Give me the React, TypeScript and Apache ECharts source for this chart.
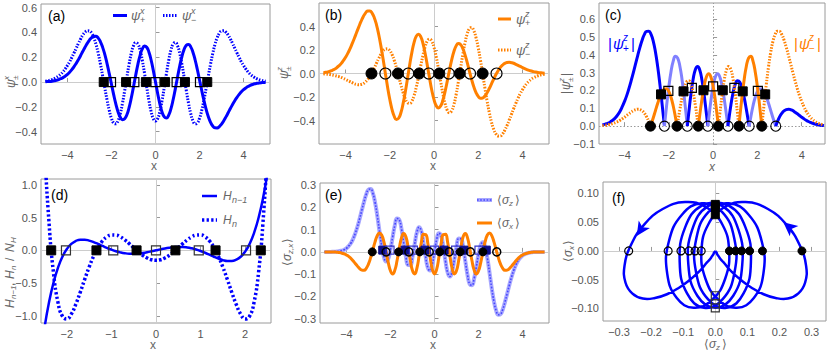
import React, { useEffect, useRef } from 'react';
import * as echarts from 'echarts';

// ---------- data ----------
const xGrid = [
  -5, -4.9, -4.8, -4.7, -4.6, -4.5, -4.4, -4.3, -4.2, -4.1,
  -4, -3.9, -3.8, -3.7, -3.6, -3.5, -3.4, -3.3, -3.2, -3.1,
  -3, -2.9, -2.8, -2.7, -2.6, -2.5, -2.4, -2.3, -2.2, -2.1,
  -2, -1.9, -1.8, -1.7, -1.6, -1.5, -1.4, -1.3, -1.2, -1.1,
  -1, -0.9, -0.8, -0.7, -0.6, -0.5, -0.4, -0.3, -0.2, -0.1,
  0,
  0.1, 0.2, 0.3, 0.4, 0.5, 0.6, 0.7, 0.8, 0.9, 1,
  1.1, 1.2, 1.3, 1.4, 1.5, 1.6, 1.7, 1.8, 1.9, 2,
  2.1, 2.2, 2.3, 2.4, 2.5, 2.6, 2.7, 2.8, 2.9, 3,
  3.1, 3.2, 3.3, 3.4, 3.5, 3.6, 3.7, 3.8, 3.9, 4,
  4.1, 4.2, 4.3, 4.4, 4.5, 4.6, 4.7, 4.8, 4.9, 5,
];

// (a) psi^x_+ and psi^x_-
const psiPlusX = [
  0.002, 0.004, 0.005, 0.007, 0.010, 0.014, 0.020, 0.027, 0.036, 0.048,
  0.062, 0.079, 0.100, 0.124, 0.151, 0.181, 0.214, 0.248, 0.281, 0.312,
  0.339, 0.359, 0.370, 0.369, 0.355, 0.325, 0.280, 0.221, 0.149, 0.068,
  -0.017, -0.101, -0.178, -0.241, -0.284, -0.304, -0.297, -0.264, -0.206, -0.129,
  -0.039, 0.055, 0.143, 0.216, 0.267, 0.290, 0.281, 0.243, 0.178, 0.094,
  0,
  -0.094, -0.178, -0.243, -0.281, -0.290, -0.267, -0.216, -0.143, -0.055, 0.039,
  0.129, 0.206, 0.264, 0.297, 0.304, 0.284, 0.241, 0.178, 0.101, 0.017,
  -0.068, -0.149, -0.221, -0.280, -0.325, -0.355, -0.369, -0.370, -0.359, -0.339,
  -0.312, -0.281, -0.248, -0.214, -0.181, -0.151, -0.124, -0.100, -0.079, -0.062,
  -0.048, -0.036, -0.027, -0.020, -0.014, -0.010, -0.007, -0.005, -0.004, -0.002,
];
const psiMinusX = [
  0.007, 0.010, 0.014, 0.020, 0.027, 0.037, 0.049, 0.064, 0.083, 0.106,
  0.133, 0.163, 0.198, 0.235, 0.273, 0.312, 0.348, 0.379, 0.402, 0.414,
  0.412, 0.394, 0.357, 0.303, 0.231, 0.145, 0.049, -0.050, -0.145, -0.229,
  -0.293, -0.330, -0.337, -0.312, -0.255, -0.171, -0.070, 0.039, 0.144, 0.232,
  0.293, 0.319, 0.307, 0.257, 0.175, 0.072, -0.041, -0.148, -0.237, -0.295,
  -0.315,
  -0.295, -0.237, -0.148, -0.041, 0.072, 0.175, 0.257, 0.307, 0.319, 0.293,
  0.232, 0.144, 0.039, -0.070, -0.171, -0.255, -0.312, -0.337, -0.330, -0.293,
  -0.229, -0.145, -0.050, 0.049, 0.145, 0.231, 0.303, 0.357, 0.394, 0.412,
  0.414, 0.402, 0.379, 0.348, 0.312, 0.273, 0.235, 0.198, 0.163, 0.133,
  0.106, 0.083, 0.064, 0.049, 0.037, 0.027, 0.020, 0.014, 0.010, 0.007,
];

// (b) psi^z_+ and psi^z_-
const psiPlusZ = [
  0.007, 0.010, 0.014, 0.019, 0.027, 0.036, 0.049, 0.065, 0.084, 0.109,
  0.138, 0.171, 0.210, 0.254, 0.300, 0.349, 0.397, 0.443, 0.483, 0.514,
  0.531, 0.532, 0.514, 0.475, 0.414, 0.332, 0.233, 0.121, 0.003, -0.114,
  -0.219, -0.305, -0.364, -0.391, -0.381, -0.336, -0.259, -0.159, -0.044, 0.073,
  0.180, 0.264, 0.318, 0.334, 0.313, 0.256, 0.170, 0.067, -0.041, -0.142,
  -0.223,
  -0.275, -0.293, -0.277, -0.228, -0.154, -0.065, 0.029, 0.116, 0.187, 0.235,
  0.255, 0.247, 0.214, 0.161, 0.094, 0.021, -0.050, -0.113, -0.162, -0.195,
  -0.210, -0.208, -0.192, -0.164, -0.128, -0.088, -0.047, -0.009, 0.024, 0.052,
  0.072, 0.086, 0.093, 0.095, 0.092, 0.087, 0.078, 0.069, 0.060, 0.050,
  0.041, 0.033, 0.026, 0.021, 0.016, 0.012, 0.009, 0.006, 0.005, 0.003,
];
const psiMinusZ = [
  -0.003, -0.005, -0.006, -0.009, -0.012, -0.016, -0.021, -0.026, -0.033, -0.041,
  -0.050, -0.060, -0.069, -0.078, -0.087, -0.092, -0.095, -0.093, -0.086, -0.072,
  -0.052, -0.024, 0.009, 0.047, 0.088, 0.128, 0.164, 0.192, 0.208, 0.210,
  0.195, 0.162, 0.113, 0.050, -0.021, -0.094, -0.161, -0.214, -0.247, -0.255,
  -0.235, -0.187, -0.116, -0.029, 0.065, 0.154, 0.228, 0.277, 0.293, 0.275,
  0.223,
  0.142, 0.041, -0.067, -0.170, -0.256, -0.313, -0.334, -0.318, -0.264, -0.180,
  -0.073, 0.044, 0.159, 0.259, 0.336, 0.381, 0.391, 0.364, 0.305, 0.219,
  0.114, -0.003, -0.121, -0.233, -0.332, -0.414, -0.475, -0.514, -0.532, -0.531,
  -0.514, -0.483, -0.443, -0.397, -0.349, -0.300, -0.254, -0.210, -0.171, -0.138,
  -0.109, -0.084, -0.065, -0.049, -0.036, -0.027, -0.019, -0.014, -0.010, -0.007,
];

// (e) <sigma_z> and <sigma_x>
const sigmaZ = [
  0.000, 0.000, 0.000, 0.000, 0.001, 0.001, 0.002, 0.004, 0.006, 0.010,
  0.016, 0.026, 0.039, 0.058, 0.083, 0.113, 0.149, 0.188, 0.226, 0.259,
  0.280, 0.283, 0.264, 0.223, 0.164, 0.094, 0.028, -0.022, -0.043, -0.031,
  0.010, 0.067, 0.120, 0.150, 0.145, 0.104, 0.042, -0.021, -0.059, -0.060,
  -0.023, 0.035, 0.088, 0.111, 0.094, 0.042, -0.023, -0.072, -0.084, -0.056,
  0,
  0.056, 0.084, 0.072, 0.023, -0.042, -0.094, -0.111, -0.088, -0.035, 0.023,
  0.060, 0.059, 0.021, -0.042, -0.104, -0.145, -0.150, -0.120, -0.067, -0.010,
  0.031, 0.043, 0.022, -0.028, -0.094, -0.164, -0.223, -0.264, -0.283, -0.280,
  -0.259, -0.226, -0.188, -0.149, -0.113, -0.083, -0.058, -0.039, -0.026, -0.016,
  -0.010, -0.006, -0.004, -0.002, -0.001, -0.001, 0.000, 0.000, 0.000, 0.000,
];
const sigmaX = [
  0.000, 0.000, 0.000, 0.000, -0.001, -0.001, -0.002, -0.003, -0.006, -0.009,
  -0.014, -0.020, -0.029, -0.040, -0.052, -0.064, -0.075, -0.082, -0.083, -0.074,
  -0.055, -0.026, 0.009, 0.045, 0.073, 0.085, 0.076, 0.046, 0.001, -0.048,
  -0.085, -0.099, -0.082, -0.039, 0.016, 0.063, 0.083, 0.068, 0.022, -0.037,
  -0.084, -0.099, -0.074, -0.019, 0.041, 0.079, 0.078, 0.037, -0.024, -0.078,
  -0.099,
  -0.078, -0.024, 0.037, 0.078, 0.079, 0.041, -0.019, -0.074, -0.099, -0.084,
  -0.037, 0.022, 0.068, 0.083, 0.063, 0.016, -0.039, -0.082, -0.099, -0.085,
  -0.048, 0.001, 0.046, 0.076, 0.085, 0.073, 0.045, 0.009, -0.026, -0.055,
  -0.074, -0.083, -0.082, -0.075, -0.064, -0.052, -0.040, -0.029, -0.020, -0.014,
  -0.009, -0.006, -0.003, -0.002, -0.001, -0.001, 0.000, 0.000, 0.000, 0.000,
];

// (d) H_{n-1}/N_H and H_n/N_H
const dGrid = [
  -2.6, -2.5, -2.4, -2.3, -2.2, -2.1, -2, -1.9, -1.8, -1.7,
  -1.6, -1.5, -1.4, -1.3, -1.2, -1.1, -1, -0.9, -0.8, -0.7,
  -0.6, -0.5, -0.4, -0.3, -0.2, -0.1,
  0,
  0.1, 0.2, 0.3, 0.4, 0.5, 0.6, 0.7, 0.8, 0.9, 1,
  1.1, 1.2, 1.3, 1.4, 1.5, 1.6, 1.7, 1.8, 1.9, 2,
  2.1, 2.2, 2.3, 2.4, 2.5, 2.6,
];
const hPrev = [
  -1.656, -1.177, -0.794, -0.495, -0.267, -0.098, 0.020, 0.098, 0.143, 0.163,
  0.163, 0.149, 0.126, 0.098, 0.067, 0.037, 0.010, -0.013, -0.031, -0.044,
  -0.051, -0.052, -0.048, -0.040, -0.029, -0.015,
  0,
  0.015, 0.029, 0.040, 0.048, 0.052, 0.051, 0.044, 0.031, 0.013, -0.010,
  -0.037, -0.067, -0.098, -0.126, -0.149, -0.163, -0.163, -0.143, -0.098, -0.020,
  0.098, 0.267, 0.495, 0.794, 1.177, 1.656,
];
const hN = [
  3.286, 1.597, 0.423, -0.343, -0.793, -1.006, -1.048, -0.974, -0.826, -0.641,
  -0.444, -0.256, -0.090, 0.044, 0.143, 0.206, 0.234, 0.232, 0.205, 0.159,
  0.102, 0.039, -0.021, -0.075, -0.117, -0.144,
  -0.153,
  -0.144, -0.117, -0.075, -0.021, 0.039, 0.102, 0.159, 0.205, 0.232, 0.234,
  0.206, 0.143, 0.044, -0.090, -0.256, -0.444, -0.641, -0.826, -0.974, -1.048,
  -1.006, -0.793, -0.343, 0.423, 1.597, 3.286,
];

// marker positions
const hnZeros = [-2.351, -1.336, -0.436, 0.436, 1.336, 2.351];
const hPrevZeros = [-2.02, -0.959, 0, 0.959, 2.02];
const psiMzZeros = [-2.827, -1.63, -0.669, 0.238, 1.163, 2.198];
const psiPzZeros = [-2.198, -1.163, -0.238, 0.669, 1.63, 2.827];
const cSqFilledY = [0.178, 0.195, 0.201, 0.201, 0.195, 0.178];
const cSqOpenY = [0.198, 0.215, 0.223, 0.215, 0.198];
const fCircFilledZ = [0.27, 0.147, 0.107, 0.082, 0.063, 0.044];
const fCircOpenZ = [-0.044, -0.063, -0.082, -0.107, -0.147, -0.27];
const fSqFilledX = [0.063, 0.076, 0.081];
const fSqOpenX = [-0.078, -0.092, -0.099];
const fArrows = [[0.212, 0.05, 50], [-0.245, 0.026, 147]];

// tick labels
const xTicksWide = [-4, -2, 0, 2, 4];
const yTicksA = [-0.4, -0.2, 0, 0.2, 0.4, 0.6];
const yTicksB = [-0.4, -0.2, 0, 0.2, 0.4];
const yTicksC = [-0.1, 0, 0.1, 0.2, 0.3, 0.4, 0.5, 0.6];
const xTicksD = [-2, -1, 0, 1, 2];
const yTicksD = [-1, -0.5, 0, 0.5, 1];
const yTicksE = [-0.3, -0.2, -0.1, 0, 0.1, 0.2, 0.3];
const xTicksF = [-0.3, -0.2, -0.1, 0, 0.1, 0.2, 0.3];
const yTicksF = [-0.1, -0.05, 0, 0.05, 0.1];

// ---------- styling helpers ----------
const SANS = '"Liberation Sans", "DejaVu Sans", Arial, sans-serif';
const BLUE = '#0000ff';
const LBLUE = '#8080ff';
const ORANGE = '#ff8000';
const GRAY = '#666666';

const fmt = (v: number, d: number) => (v < -1e-9 ? '\u2212' : '') + Math.abs(v).toFixed(d);

function vAxis(gi: number, min: number, max: number, ticks: number[], dec: number) {
  return {
    type: 'value', gridIndex: gi, min, max,
    axisLine: { show: false }, splitLine: { show: false },
    axisTick: { show: true, inside: true, length: 4, lineStyle: { color: '#999' }, customValues: ticks },
    axisLabel: { customValues: ticks, formatter: (v: number) => fmt(v, dec), color: '#555', fontSize: 11, fontFamily: SANS, margin: 5 },
  };
}

const pairs = (xs: number[], ys: number[]) => xs.map((x, i) => [x, ys[i]]);

const zeroMark = (dotted: boolean) => ({
  silent: true, symbol: ['none', 'none'], z: 1, animation: false,
  label: { show: false }, emphasis: { disabled: true },
  lineStyle: { color: dotted ? '#9a9a9a' : '#cccccc', width: 1, type: dotted ? [1.5, 2] : 'solid' },
  data: [{ yAxis: 0 }, { xAxis: 0 }],
});

function line(gi: number, data: any[], color: string, width: number, type: any = 'solid', z = 3, extra: any = {}) {
  return {
    type: 'line', xAxisIndex: gi, yAxisIndex: gi, data, showSymbol: false, symbol: 'none',
    smooth: true, silent: true, z, lineStyle: { color, width, type, cap: 'butt', join: 'round' }, ...extra,
  };
}
function scatter(gi: number, data: any[], symbol: string, size: any, fill: string, border: string, bw = 1.2, z = 6, extra: any = {}) {
  return {
    type: 'scatter', xAxisIndex: gi, yAxisIndex: gi, data, symbol, symbolSize: size, silent: true, z,
    itemStyle: { color: fill, borderColor: border, borderWidth: bw, opacity: 1 }, ...extra,
  };
}

// split |y| into sign segments, using the read zero positions as segment ends
function signSegments(xs: number[], ys: number[], zeros: number[]) {
  const b = [-Infinity, ...zeros, Infinity];
  const segs: { pts: number[][]; pos: boolean }[] = [];
  for (let i = 0; i < b.length - 1; i++) {
    const pts: number[][] = [];
    let s = 0;
    if (isFinite(b[i])) pts.push([b[i], 0]);
    xs.forEach((x, j) => {
      if (x > b[i] && x < b[i + 1]) { pts.push([x, Math.abs(ys[j])]); s += ys[j]; }
    });
    if (isFinite(b[i + 1])) pts.push([b[i + 1], 0]);
    segs.push({ pts, pos: s > 0 });
  }
  return segs;
}

type Piece = [string, number, number, number, boolean?];
function mathText(cx: number, cy: number, pieces: Piece[], fill: string, rotate = false, family = SANS) {
  return {
    type: 'group', x: cx, y: cy, rotation: rotate ? Math.PI / 2 : 0, silent: true,
    children: pieces.map(([t, dx, dy, size, it]) => ({
      type: 'text', x: dx, y: dy, silent: true,
      style: {
        text: t, fill, fontSize: size, fontFamily: family, fontStyle: it ? 'italic' : 'normal',
        textAlign: 'left', align: 'left', textVerticalAlign: 'middle', verticalAlign: 'middle',
      },
    })),
  };
}
function seg(x1: number, x2: number, y: number, stroke: string, lw: number, dash: any = null) {
  return { type: 'line', silent: true, shape: { x1, y1: y, x2, y2: y }, style: { stroke, lineWidth: lw, lineDash: dash, lineCap: 'butt' } };
}
function panelLabel(x: number, y: number, t: string) {
  return { type: 'text', x, y, silent: true, style: { text: t, fill: '#000', fontSize: 14, fontFamily: SANS, textAlign: 'left', align: 'left', textVerticalAlign: 'middle', verticalAlign: 'middle' } };
}

export default function App() {
  const ref = useRef<HTMLDivElement>(null);
  useEffect(() => {
    if (!ref.current) return;
    const chart = echarts.init(ref.current, null, { renderer: 'svg' });

    const grids = [
      { left: 41, top: 4, width: 229, height: 140 },
      { left: 319, top: 3, width: 230, height: 141 },
      { left: 599, top: 3, width: 226, height: 141 },
      { left: 41, top: 179, width: 230, height: 144 },
      { left: 320, top: 183, width: 229, height: 140 },
      { left: 603, top: 182, width: 223, height: 139 },
    ].map((g) => ({ ...g, show: true, borderColor: '#9a9a9a', borderWidth: 1, backgroundColor: 'transparent' }));

    const xAxis = [
      vAxis(0, -5.2, 5.2, xTicksWide, 0),
      vAxis(1, -5.2, 5.2, xTicksWide, 0),
      vAxis(2, -5.15, 5.05, xTicksWide, 0),
      vAxis(3, -2.58, 2.58, xTicksD, 0),
      vAxis(4, -5.2, 5.2, xTicksWide, 0),
      vAxis(5, -0.35, 0.345, xTicksF, 1),
    ];
    const yAxis = [
      vAxis(0, -0.5, 0.63, yTicksA, 1),
      vAxis(1, -0.6, 0.6, yTicksB, 1),
      vAxis(2, -0.1, 0.69, yTicksC, 1),
      vAxis(3, -1.11, 1.09, yTicksD, 1),
      vAxis(4, -0.32, 0.31, yTicksE, 1),
      vAxis(5, -0.122, 0.12, yTicksF, 2),
    ];
    yAxis.forEach((a: any) => { a.axisLabel.margin = 4; });

    const series: any[] = [];
    const DOT = [1.5, 1.5];

    // (a)
    series.push(line(0, pairs(xGrid, psiMinusX), BLUE, 3, DOT, 3, { markLine: zeroMark(false) }));
    series.push(line(0, pairs(xGrid, psiPlusX), BLUE, 3, 'solid', 4));
    series.push(scatter(0, hnZeros.map((x) => [x, 0]), 'rect', 9, '#000', '#000', 1));
    series.push(scatter(0, hPrevZeros.map((x) => [x, 0]), 'rect', 9, 'rgba(0,0,0,0)', '#000', 1.2));

    // (b)
    series.push(line(1, pairs(xGrid, psiMinusZ), ORANGE, 3, DOT, 3, { markLine: zeroMark(false) }));
    series.push(line(1, pairs(xGrid, psiPlusZ), ORANGE, 3, 'solid', 4));
    series.push(scatter(1, psiMzZeros.map((x) => [x, 0]), 'circle', 11, '#000', '#000', 1));
    series.push(scatter(1, psiPzZeros.map((x) => [x, 0]), 'circle', 11, 'rgba(0,0,0,0)', '#000', 1.1));

    // (c)
    let first = true;
    signSegments(xGrid, psiPlusZ, psiPzZeros).forEach((s) => {
      series.push(line(2, s.pts, s.pos ? BLUE : LBLUE, 3, 'solid', 3, first ? { markLine: zeroMark(true) } : {}));
      first = false;
    });
    signSegments(xGrid, psiMinusZ, psiMzZeros).forEach((s) => {
      series.push(line(2, s.pts, ORANGE, 3, s.pos ? 'solid' : DOT, 4));
    });
    series.push(scatter(2, psiMzZeros.map((x) => [x, 0]), 'circle', 10, '#000', '#000', 1));
    series.push(scatter(2, psiPzZeros.map((x) => [x, 0]), 'circle', 10, 'rgba(0,0,0,0)', '#000', 1.1));
    series.push(scatter(2, pairs(hnZeros, cSqFilledY), 'rect', 9, '#000', '#000', 1));
    series.push(scatter(2, pairs(hPrevZeros, cSqOpenY), 'rect', 9, 'rgba(0,0,0,0)', '#000', 1.2));

    // (d)
    series.push(line(3, pairs(dGrid, hN), BLUE, 3.5, [2.3, 2.3], 3, { markLine: zeroMark(false) }));
    series.push(line(3, pairs(dGrid, hPrev), BLUE, 2.5, 'solid', 4));
    series.push(scatter(3, hnZeros.map((x) => [x, 0]), 'rect', 9, '#000', '#000', 1));
    series.push(scatter(3, hPrevZeros.map((x) => [x, 0]), 'rect', 9, 'rgba(0,0,0,0)', '#333', 1.2));

    // (e)
    series.push(line(4, pairs(xGrid, sigmaZ), '#a8a8ff', 4, 'solid', 3, { markLine: zeroMark(false) }));
    series.push(line(4, pairs(xGrid, sigmaZ), '#4646ff', 1.6, [1.6, 1.6], 3));
    series.push(line(4, pairs(xGrid, sigmaX), ORANGE, 3, 'solid', 4));
    series.push(scatter(4, hnZeros.map((x) => [x, 0.008]), 'rect', 8, '#0c0c8a', '#0c0c8a', 1));
    series.push(scatter(4, hPrevZeros.map((x) => [x, 0.008]), 'rect', 8, 'rgba(0,0,0,0)', '#3535c8', 1.2));
    series.push(scatter(4, psiMzZeros.map((x) => [x, 0]), 'circle', 8, '#000', '#000', 1, 7));
    series.push(scatter(4, psiPzZeros.map((x) => [x, 0]), 'circle', 8, 'rgba(0,0,0,0)', '#000', 1.5, 7));

    // (f) parametric curve (<sigma_z>, <sigma_x>) drawn through the axes' scales
    const fPts = pairs(sigmaZ, sigmaX);
    series.push({
      type: 'custom', coordinateSystem: 'cartesian2d', xAxisIndex: 5, yAxisIndex: 5,
      data: fPts, silent: true, z: 3, clip: true,
      renderItem: (params: any, api: any) => {
        if (params.dataIndex !== 0) return null;
        const points = fPts.map((p) => api.coord(p));
        return {
          type: 'polyline',
          shape: { points, smooth: 0.45 },
          style: { stroke: BLUE, lineWidth: 2.5, fill: null, lineJoin: 'round' },
        };
      },
    });
    series.push(scatter(5, fCircFilledZ.map((z) => [z, 0]), 'circle', 8, '#000', '#000', 1, 6, { markLine: zeroMark(false) }));
    series.push(scatter(5, fCircOpenZ.map((z) => [z, 0]), 'circle', 8, 'rgba(0,0,0,0)', '#000', 1.2));
    series.push(scatter(5, fSqFilledX.map((s) => [0, s]), 'rect', 8, '#000', '#000', 1));
    series.push(scatter(5, fSqOpenX.map((s) => [0, s]), 'rect', 8, 'rgba(0,0,0,0)', '#333', 1.2));
    series.push(scatter(5, fArrows.map(([a, b, r]) => ({ value: [a, b], symbolRotate: r })), 'arrow', [10, 14], BLUE, BLUE, 0, 6));

    const graphic: any[] = [
      panelLabel(48, 16, '(a)'),
      panelLabel(325, 15, '(b)'),
      panelLabel(605, 15, '(c)'),
      panelLabel(51, 195, '(d)'),
      panelLabel(325, 195, '(e)'),
      panelLabel(612, 198, '(f)'),
      // x-axis titles
      mathText(151, 166, [['x', 0, 0, 12]], GRAY),
      mathText(430, 166, [['x', 0, 0, 12]], GRAY),
      mathText(709, 167, [['x', 0, 0, 12, true]], GRAY),
      mathText(150, 345, [['x', 0, 0, 12]], GRAY),
      mathText(430, 345, [['x', 0, 0, 12]], GRAY),
      mathText(704, 344, [['\u27E8', 0, 0, 12], ['\u03C3', 5, 0, 12, true], ['z', 12, 3, 8, true], ['\u27E9', 18, 0, 12]], GRAY),
      // y-axis titles (rotated)
      mathText(11, 82, [['\u03C8', -6, 0, 12, true], ['x', 2, -5, 8, true], ['\u00B1', 2, 4, 8]], GRAY, true),
      mathText(284, 73, [['\u03C8', -6, 0, 12, true], ['z', 2, -5, 8, true], ['\u00B1', 2, 4, 8]], GRAY, true),
      mathText(566, 84, [['|', -10, 0, 12], ['\u03C8', -6, 0, 12, true], ['z', 2, -5, 8, true], ['\u00B1', 2, 4, 8], ['|', 8, 0, 12]], GRAY, true),
      mathText(10, 262, [
        ['H', -46, 0, 12, true], ['n\u22121', -37, 3, 8, true], [',', -24, 0, 12],
        ['H', -17, 0, 12, true], ['n', -8, 3, 8, true], ['/', 1, 0, 12],
        ['N', 10, 0, 12, true], ['H', 19, 3, 8, true],
      ], GRAY, true),
      mathText(287, 252, [['\u27E8', -14, 0, 12], ['\u03C3', -9, 0, 12, true], ['z,x', -2, 3, 8, true], ['\u27E9', 9, 0, 12]], GRAY, true),
      mathText(568, 252, [['\u27E8', -10, 0, 12], ['\u03C3', -5, 0, 12, true], ['x', 2, 3, 8, true], ['\u27E9', 7, 0, 12]], GRAY, true),
      // legend (a)
      seg(113, 127, 15.5, BLUE, 3),
      mathText(131, 15.5, [['\u03C8', 0, 0, 13, true], ['x', 9, -5, 9, true], ['+', 9, 4, 9]], GRAY),
      seg(163, 177, 15.5, BLUE, 3, DOT),
      mathText(182, 15.5, [['\u03C8', 0, 0, 13, true], ['x', 9, -5, 9, true], ['\u2212', 9, 4, 9]], GRAY),
      // legend (b)
      seg(498, 511, 19, ORANGE, 3),
      mathText(516, 19, [['\u03C8', 0, 0, 13, true], ['z', 9, -5, 9, true], ['+', 9, 4, 9]], GRAY),
      seg(498, 511, 50, ORANGE, 3, DOT),
      mathText(516, 50, [['\u03C8', 0, 0, 13, true], ['z', 9, -5, 9, true], ['\u2212', 9, 4, 9]], GRAY),
      // labels (c)
      mathText(608, 43, [['|', 0, 0, 15], ['\u03C8', 5, 0, 15, true], ['z', 15, -6, 10, true], ['+', 15, 5, 10], ['|', 23, 0, 15]], BLUE),
      mathText(794, 43, [['|', 0, 0, 15], ['\u03C8', 5, 0, 15, true], ['z', 15, -6, 10, true], ['\u2212', 15, 5, 10], ['|', 23, 0, 15]], ORANGE),
      // legend (d)
      seg(202, 217, 196, BLUE, 2.5),
      mathText(223, 196, [['H', 0, 0, 12, true], ['n\u22121', 9, 4, 9, true]], GRAY),
      seg(202, 217, 220, BLUE, 3.5, [2.3, 2.3]),
      mathText(223, 220, [['H', 0, 0, 12, true], ['n', 9, 4, 9, true]], GRAY),
      // legend (e)
      seg(477, 492, 200, '#a8a8ff', 4),
      seg(477, 492, 200, '#4646ff', 1.6, [1.6, 1.6]),
      mathText(497, 200, [['\u27E8', 0, 0, 12], ['\u03C3', 5, 0, 12, true], ['z', 12, 3, 8, true], ['\u27E9', 18, 0, 12]], GRAY),
      seg(477, 492, 223, ORANGE, 3),
      mathText(497, 223, [['\u27E8', 0, 0, 12], ['\u03C3', 5, 0, 12, true], ['x', 12, 3, 8, true], ['\u27E9', 18, 0, 12]], GRAY),
    ];

    chart.setOption({
      animation: false,
      backgroundColor: '#ffffff',
      grid: grids,
      xAxis,
      yAxis,
      series,
      graphic,
    });
    return () => chart.dispose();
  }, []);

  return <div ref={ref} style={{ position: 'fixed', left: 0, top: 0, width: 830, height: 355 }} />;
}
